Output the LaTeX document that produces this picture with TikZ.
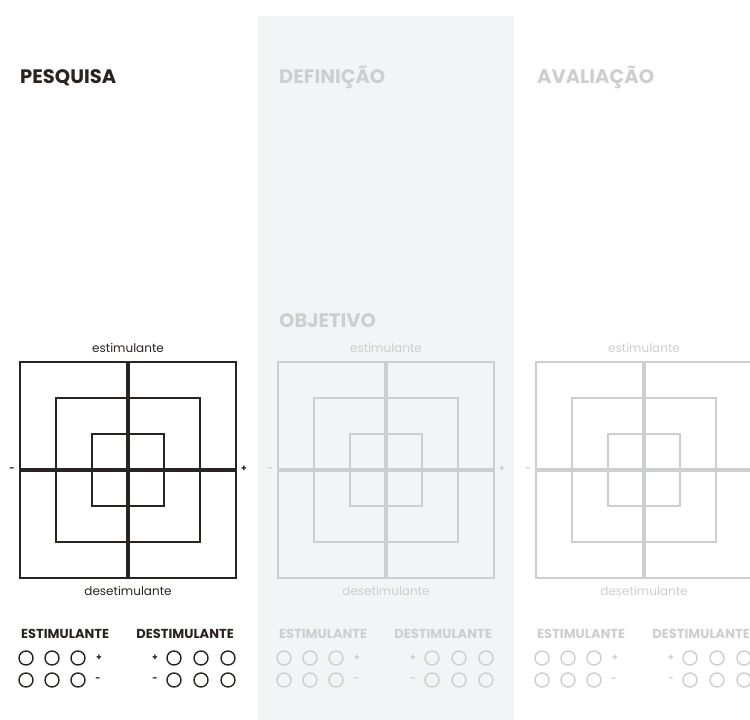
\documentclass[tikz,border=0pt]{standalone}
\usepackage{fontspec}
\setmainfont{Poppins}
\usetikzlibrary{positioning}

\definecolor{ink}{HTML}{2A2421}
\definecolor{faded}{HTML}{CDCECF}
\definecolor{panelgray}{HTML}{F3F4F6}

\begin{document}
\begin{tikzpicture}[x=1pt, y=-1pt, font=\fontsize{12}{13}\selectfont,
        heading/.style={font=\fontsize{19.5}{21}\selectfont\bfseries, anchor=base west, inner sep=0pt},
        axislabel/.style={anchor=base, inner sep=0pt},
        keylabel/.style={font=\fontsize{13}{14}\selectfont\bfseries, inner sep=0pt},
        sign/.style={font=\fontsize{9}{10}\selectfont\bfseries, inner sep=0pt},
        ring/.style={circle, draw, line width=1.4pt, minimum size=14pt, inner sep=0pt},
        frame/.style={line width=1.5pt},
        cross/.style={line width=3.5pt}]
                \useasboundingbox (0,0) rectangle (750,720);
                \clip (0,0) rectangle (750,720);
                \fill[panelgray] (258,16) rectangle (514,720);

                \node[heading, text=ink] (Pesquisa) at (20,83) {PESQUISA};
                \node[heading, text=faded] (Definicao) at (279,83) {DEFINIÇÃO};
                \node[heading, text=faded] (Avaliacao) at (537,83) {AVALIAÇÃO};
                \node[heading, text=faded] (Objetivo) at (279,327) {OBJETIVO};

                \foreach \ox/\col/\nm in {0/ink/P, 258/faded/D, 516/faded/A}{
                    \begin{scope}[xshift=\ox pt, color=\col]
                        % quadrant
                        \draw[frame] (20,362) rectangle (236,578);
                        \draw[frame] (56,398) rectangle (200,542);
                        \draw[frame] (92,434) rectangle (164,506);
                        \draw[cross] (128,362) -- (128,578);
                        \draw[cross] (20,470) -- (236,470);
                        \node[axislabel] (Up\nm) at (128,352) {estimulante};
                        \node[axislabel] (Down\nm) at (128,595) {desetimulante};
                        \node[sign] (Minus\nm) at (12,470) {-};
                        % key
                        \node[keylabel, anchor=base west] (Stim\nm) at (21,638) {ESTIMULANTE};
                        \node[keylabel, anchor=base east] (Destim\nm) at (234,638) {DESTIMULANTE};
                        \foreach \i/\x/\xx in {1/26/174, 2/52/201, 3/78/228}{
                            \node[ring] (StimPlus\nm\i) at (\x,658) {};
                            \node[ring] (StimMinus\nm\i) at (\x,680) {};
                            \node[ring] (DestimPlus\nm\i) at (\xx,658) {};
                            \node[ring] (DestimMinus\nm\i) at (\xx,680) {};
                        }
                        \node[sign] (StimPlusSign\nm) at (99,658) {+};
                        \node[sign] (StimMinusSign\nm) at (98,680) {-};
                        \node[sign] (DestimPlusSign\nm) at (155,658) {+};
                        \node[sign] (DestimMinusSign\nm) at (155,680) {-};
                    \end{scope}
                }
                \node[sign, text=ink] (PlusP) at (244,469) {+};
                \node[sign, text=faded] (PlusD) at (502,469) {+};
            \end{tikzpicture}
\end{document}
